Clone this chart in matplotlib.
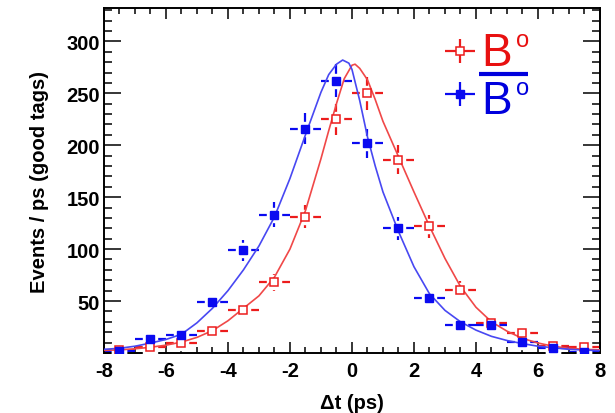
import matplotlib.pyplot as plt
from matplotlib.ticker import MultipleLocator

plt.rcParams['font.family'] = ['Liberation Sans', 'DejaVu Sans']
plt.rcParams['axes.unicode_minus'] = False

# bin centres (ps) and half bin width
dt = [-7.5, -6.5, -5.5, -4.5, -3.5, -2.5, -1.5, -0.5, 0.5, 1.5, 2.5, 3.5, 4.5, 5.5, 6.5, 7.5]
half_bin = 0.5

# B0 tags (open red squares)
b0 = [3, 5.4, 10, 21.5, 41.7, 68, 131, 225, 250, 186, 122, 61, 29, 19, 6.4, 5.5]
b0_err = [2, 2, 3, 5, 6, 8, 11, 15, 16, 14, 11, 8, 5, 4, 3, 2]

# B0bar tags (filled blue squares)
b0bar = [2.2, 13.5, 17.6, 49, 98.7, 133, 216, 262, 202, 120, 53, 27, 27, 10.3, 4.8, 1]
b0bar_err = [2, 4, 4, 7, 10, 12, 15, 16, 14, 11, 7, 5, 5, 3, 2, 1]

# fit curves
fit_t_b0 = [-8, -7.5, -7, -6.5, -6, -5.5, -5, -4.5, -4, -3.5, -3, -2.5, -2, -1.5, -1,
            -0.75, -0.5, -0.25, 0, 0.1, 0.25, 0.5, 0.75, 1, 1.5, 2, 2.5, 3, 3.5, 4,
            4.5, 5, 5.5, 6, 6.5, 7, 7.5, 8]
fit_b0 = [2.5, 3, 4, 5.5, 7.5, 10.5, 15, 21.5, 31, 43, 55, 73, 100, 137, 187,
          214, 240, 264, 277, 278, 274, 263, 244, 223, 189, 155, 122, 91, 64, 44,
          30, 21, 14, 9.6, 6.4, 4.5, 3.5, 3]

fit_t_b0bar = [-8, -7.5, -7, -6.5, -6, -5.5, -5, -4.5, -4, -3.5, -3, -2.5, -2, -1.5, -1,
               -0.75, -0.5, -0.3, -0.1, 0, 0.25, 0.5, 0.75, 1, 1.5, 2, 2.5, 3, 3.5, 4,
               4.5, 5, 5.5, 6, 6.5, 7, 7.5, 8]
fit_b0bar = [3.5, 4.5, 6.5, 9.5, 13, 18, 29, 43, 60, 80, 103, 131, 168, 210, 251,
             268, 278, 282, 279, 273, 243, 208, 180, 155, 117, 83, 57, 41, 30, 22,
             16, 12, 9, 6.5, 5, 3.5, 2.8, 2.3]

red = '#ec1c1c'
blue = '#0a0af0'

fig = plt.figure(figsize=(6.15, 4.14), dpi=100)
ax = fig.add_axes([0.169, 0.145, 0.8066, 0.833])

# error bars first, then white squares to leave a gap round each point
ax.errorbar(dt, b0, xerr=half_bin, yerr=b0_err, fmt='none', ecolor=red, elinewidth=1.6, zorder=2)
ax.errorbar(dt, b0bar, xerr=half_bin, yerr=b0bar_err, fmt='none', ecolor=blue, elinewidth=1.6, zorder=2)
ax.plot(dt, b0, 's', ms=10, color='white', zorder=3)
ax.plot(dt, b0bar, 's', ms=10, color='white', zorder=3)

ax.plot(fit_t_b0, fit_b0, color='#f04848', lw=1.2, zorder=3.5)
ax.plot(fit_t_b0bar, fit_b0bar, color='#4848f2', lw=1.2, zorder=3.5)

ax.plot(dt, b0, 's', ms=6, mfc='white', mec=red, mew=1.1, zorder=4)
ax.plot(dt, b0bar, 's', ms=6, color=blue, zorder=4)

ax.set_xlim(-8, 8)
ax.set_ylim(0, 332)
ax.set_xticks(range(-8, 9, 2))
ax.set_yticks(range(50, 301, 50))
ax.xaxis.set_minor_locator(MultipleLocator(0.5))
ax.yaxis.set_minor_locator(MultipleLocator(10))
ax.tick_params(which='both', direction='in', top=True, right=True, width=1.1, labelsize=14.5)
ax.tick_params(axis='x', which='major', length=8, pad=6)
ax.tick_params(axis='x', which='minor', length=4)
ax.tick_params(axis='y', which='major', length=12, pad=3)
ax.tick_params(axis='y', which='minor', length=6)
for lab in ax.get_xticklabels() + ax.get_yticklabels():
    lab.set_fontweight('bold')
for sp in ax.spines.values():
    sp.set_linewidth(1.4)

ax.set_ylabel('Events / ps (good tags)', fontsize=14.5, fontweight='bold', labelpad=12)
ax.set_xlabel('\u0394t (ps)', fontsize=14.5, fontweight='bold', labelpad=9)

# hand-made legend
lg = fig.add_axes([440 / 615, 1 - 120 / 414, 100 / 615, 95 / 414])
lg.set_xlim(0, 100)
lg.set_ylim(120, 25)
lg.axis('off')
lg.errorbar([20], [52], xerr=15, yerr=12, fmt='s', ms=6, mfc='white', mec=red, mew=1.1,
            ecolor=red, elinewidth=1.6)
lg.errorbar([20], [95], xerr=15, yerr=12, fmt='s', ms=6, color=blue, elinewidth=1.6)
lg.text(41, 66, 'B', color='#e81010', fontsize=33, va='baseline', ha='left')
lg.text(76, 47, 'o', color='#e81010', fontsize=17, va='baseline', ha='left')
lg.text(41, 114, 'B', color='#0000dd', fontsize=33, va='baseline', ha='left')
lg.text(76, 95, 'o', color='#0000dd', fontsize=17, va='baseline', ha='left')
lg.plot([39, 88], [75, 75], color='#0000dd', lw=3, solid_capstyle='butt')

fig.savefig('out.png', dpi=100)
